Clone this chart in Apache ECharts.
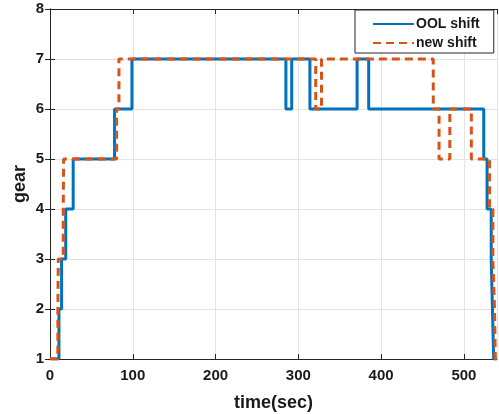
<!DOCTYPE html>
<html>
<head>
<meta charset="utf-8">
<title>gear shift</title>
<script src="https://cdn.jsdelivr.net/npm/echarts@6/dist/echarts.min.js"></script>
<style>
  html, body { margin: 0; padding: 0; background: #fff; }
  #chart { width: 499px; height: 414px; }
</style>
</head>
<body>
<div id="chart"></div>
<script>
// gear change points: gear holds from this time until the next one
const oolTime = [0, 10.8, 14, 19, 28, 78, 99, 285, 292, 314, 371, 385, 524, 528, 533, 534.5, 536, 540]
const oolGear = [1, 2, 3, 4, 5, 6, 7, 6, 7, 6, 7, 6, 5, 4, 3, 2, 1, 1]

const newTime = [0, 9.5, 10, 16, 16.5, 80.5, 83.3, 321, 328, 463, 470, 483, 509, 531, 535, 537, 538, 540]
const newGear = [1, 2, 3, 4, 5, 6, 7, 6, 7, 6, 5, 6, 5, 4, 3, 2, 1, 1]

const xTicks = [0, 100, 200, 300, 400, 500]
const yTicks = [1, 2, 3, 4, 5, 6, 7, 8]

const axisColor = '#262626'
const font = 'Liberation Sans, Arial, sans-serif'

const toPoints = (t, g) => t.map((v, i) => [v, g[i]])

const chart = echarts.init(document.getElementById('chart'))

const labelStyle = {
  color: '#1a1a1a',
  fontFamily: font,
  fontWeight: 'bold',
  fontSize: 15
}

const option = {
  animation: false,
  grid: { left: 50, right: 2, top: 9, bottom: 55, outerBoundsMode: 'none', containLabel: false },
  legend: {
    orient: 'vertical',
    left: 355,
    top: 10,
    padding: [7, 14, 3, 17],
    itemWidth: 41,
    itemHeight: 14,
    itemGap: 5,
    backgroundColor: '#fff',
    borderColor: axisColor,
    borderWidth: 1,
    borderRadius: 0,
    itemStyle: { opacity: 0, color: 'transparent', borderWidth: 0 },
    textStyle: { color: '#1a1a1a', fontFamily: font, fontWeight: 'bold', fontSize: 14, padding: [0, 0, 0, -3] },
    data: ['OOL shift', 'new shift']
  },
  xAxis: [
    {
      type: 'value',
      min: 0,
      max: 540,
      interval: 100,
      name: 'time(sec)',
      nameLocation: 'middle',
      nameGap: 35,
      nameTextStyle: { color: '#1a1a1a', fontFamily: font, fontWeight: 'bold', fontSize: 18 },
      axisLine: { show: true, lineStyle: { color: axisColor, width: 1 } },
      axisTick: { show: true, inside: true, length: 5, lineStyle: { color: axisColor } },
      axisLabel: Object.assign({ margin: 9, showMaxLabel: false,
        formatter: v => xTicks.includes(v) ? String(v) : '' }, labelStyle),
      splitLine: { show: true, lineStyle: { color: '#e3e3e3', width: 1 } }
    },
    {
      type: 'value',
      position: 'top',
      min: 0,
      max: 540,
      interval: 100,
      axisLine: { show: true, lineStyle: { color: axisColor, width: 1 } },
      axisTick: { show: true, inside: true, length: 5, lineStyle: { color: axisColor } },
      axisLabel: { show: false },
      splitLine: { show: false }
    }
  ],
  yAxis: [
    {
      type: 'value',
      min: 1,
      max: 8,
      interval: 1,
      name: 'gear',
      nameLocation: 'middle',
      nameGap: 21,
      nameMoveOverlap: false,
      nameTextStyle: { color: '#1a1a1a', fontFamily: font, fontWeight: 'bold', fontSize: 18 },
      axisLine: { show: true, lineStyle: { color: axisColor, width: 1 } },
      axisTick: { show: true, inside: true, length: 5, lineStyle: { color: axisColor } },
      axisLabel: Object.assign({ margin: 6,
        formatter: v => yTicks.includes(v) ? String(v) : '' }, labelStyle),
      splitLine: { show: true, lineStyle: { color: '#e3e3e3', width: 1 } }
    },
    {
      type: 'value',
      position: 'right',
      min: 1,
      max: 8,
      interval: 1,
      axisLine: { show: true, lineStyle: { color: axisColor, width: 1 } },
      axisTick: { show: true, inside: true, length: 5, lineStyle: { color: axisColor } },
      axisLabel: { show: false },
      splitLine: { show: false }
    }
  ],
  series: [
    {
      name: 'OOL shift',
      type: 'line',
      step: 'end',
      symbol: 'none',
      data: toPoints(oolTime, oolGear),
      lineStyle: { color: '#0072BD', width: 3 },
      itemStyle: { color: '#0072BD' },
      z: 2
    },
    {
      name: 'new shift',
      type: 'line',
      step: 'end',
      symbol: 'none',
      data: toPoints(newTime, newGear),
      lineStyle: { color: '#D95319', width: 3, type: [8, 5] },
      itemStyle: { color: '#D95319' },
      z: 3
    }
  ]
}

chart.setOption(option)
</script>
</body>
</html>
